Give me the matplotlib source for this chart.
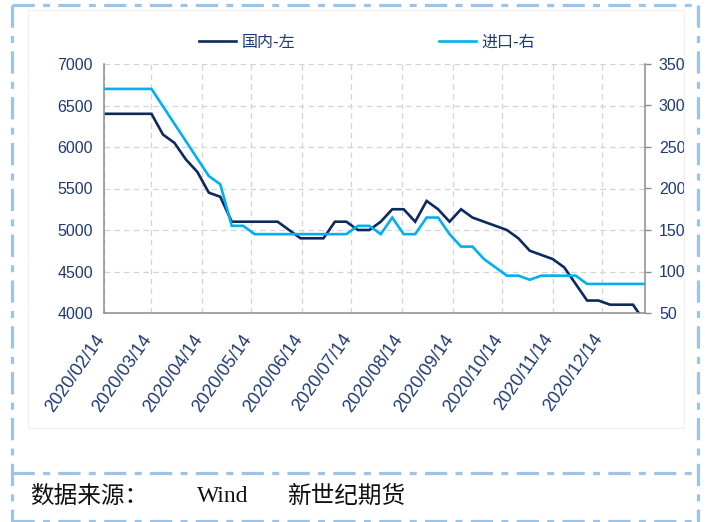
import datetime as dt
import matplotlib
matplotlib.use("Agg")
import matplotlib.pyplot as plt
import matplotlib.dates as mdates
from matplotlib.lines import Line2D
from matplotlib import font_manager
import matplotlib.transforms as mtransforms

# ---- data: weekly prices ----
start = dt.date(2020, 2, 15)
domestic = [6400, 6400, 6400, 6400, 6400, 6150, 6050, 5850, 5700, 5450,
            5400, 5100, 5100, 5100, 5100, 5100, 5000, 4900, 4900, 4900,
            5100, 5100, 5000, 5000, 5100, 5250, 5250, 5100, 5350, 5250,
            5100, 5250, 5150, 5100, 5050, 5000, 4900, 4750, 4700, 4650,
            4550, 4350, 4150, 4150, 4100, 4100, 4100, 3900]
imported = [320, 320, 320, 320, 320, 299, 278, 257, 236, 215,
            205, 155, 155, 145, 145, 145, 145, 145, 145, 145,
            145, 145, 155, 155, 145, 165, 145, 145, 165, 165,
            145, 130, 130, 115, 105, 95, 95, 90, 95, 95,
            95, 95, 85, 85, 85, 85, 85, 85]
dates = [start + dt.timedelta(days=7 * i) for i in range(len(domestic))]
tick_dates = [dt.date(2020, m, 14) for m in range(2, 13)]
left_ticks = [4000, 4500, 5000, 5500, 6000, 6500, 7000]
right_ticks = [50, 100, 150, 200, 250, 300, 350]
labels = ["国内-左", "进口-右"]

NAVY = "#0D2A5E"
SKY = "#00B0F0"
TXT = "#1F3A70"
GRID = "#D4D4D4"
SPINE = "#8C8C8C"
FRAME = "#9DC3E6"

CJK = ["Noto Sans CJK SC", "Noto Sans CJK JP", "DejaVu Sans"]


def has_font(name):
    try:
        font_manager.findfont(font_manager.FontProperties(family=name),
                              fallback_to_default=False)
        return True
    except Exception:
        return False


if has_font("Liberation Sans Narrow"):
    NUM_NARROW, NUM_SIZE = "Liberation Sans Narrow", 13.5
else:
    NUM_NARROW, NUM_SIZE = "Liberation Sans", 11.5
NUM = "Liberation Sans" if has_font("Liberation Sans") else "DejaVu Sans"
SERIF = "Liberation Serif" if has_font("Liberation Serif") else "DejaVu Serif"

plt.rcParams["lines.scale_dashes"] = False

W, H = 709, 522
fig = plt.figure(figsize=(W / 100, H / 100), dpi=100)
fig.patch.set_facecolor("white")


def fx(px):
    return px / W


def fy(py):
    return 1 - py / H


# faint chart-area outline
fig.add_artist(plt.Rectangle((fx(28), fy(428)), fx(684 - 28), (428 - 10) / H,
                             transform=fig.transFigure, fill=False,
                             edgecolor="#EFEFEF", linewidth=0.8))

ax = fig.add_axes([fx(104), fy(313), fx(645 - 104), (313 - 64) / H])
ax2 = ax.twinx()

x = mdates.date2num(dates)
l1, = ax.plot(x, domestic, color=NAVY, linewidth=1.9, solid_joinstyle="miter")
l2, = ax2.plot(x, imported, color=SKY, linewidth=1.9, solid_joinstyle="miter")

ax.set_xlim(mdates.date2num(dt.date(2020, 2, 14)),
            mdates.date2num(dt.datetime(2021, 1, 9, 8)))
ax.set_ylim(4000, 7000)
ax2.set_ylim(50, 350)
ax.set_yticks(left_ticks)
ax2.set_yticks(right_ticks)
ax.set_xticks(mdates.date2num(tick_dates))
ax.set_xticklabels([d.strftime("%Y/%m/%d") for d in tick_dates])

ax.grid(True, color=GRID, linestyle=(0, (4, 3)), linewidth=0.9)
ax.set_axisbelow(True)

for a in (ax, ax2):
    a.spines["top"].set_visible(False)
    for s in ("left", "right", "bottom"):
        a.spines[s].set_color(SPINE)
        a.spines[s].set_linewidth(1.1)
ax.spines["right"].set_visible(False)
ax2.spines["left"].set_visible(False)
ax2.spines["bottom"].set_visible(False)

ax.tick_params(axis="y", length=0, pad=8, labelsize=NUM_SIZE, labelcolor=TXT)
ax2.tick_params(axis="y", length=4, width=1, color=SPINE, direction="out",
                pad=6, labelsize=NUM_SIZE, labelcolor=TXT)
ax.tick_params(axis="x", length=0, pad=13, labelsize=13, labelcolor=TXT)

for t in ax.get_yticklabels() + ax2.get_yticklabels():
    t.set_fontfamily(NUM_NARROW)
shift = mtransforms.ScaledTranslation(4 / 100, 0, fig.dpi_scale_trans)
for t in ax.get_xticklabels():
    t.set_fontfamily(NUM)
    t.set_rotation(55)
    t.set_ha("right")
    t.set_va("top")
    t.set_transform(t.get_transform() + shift)

leg = fig.legend([l1, l2], labels, loc="center", ncol=2,
                 bbox_to_anchor=(fx(367), fy(42)), frameon=False,
                 handlelength=2.3, handletextpad=0.35, columnspacing=9.0,
                 prop={"family": CJK, "size": 11.5})
for t in leg.get_texts():
    t.set_color(TXT)

# dash-dot frame with footer separator
dash = (0, (16, 6, 5, 6))
frame_kw = dict(transform=fig.transFigure, color=FRAME, linewidth=2.3,
                linestyle=dash, solid_capstyle="butt", dash_capstyle="butt")
for xs, ys in [((12, 698), (5, 5)), ((12, 698), (473, 473)),
               ((12, 698), (520.5, 520.5)), ((11.5, 11.5), (5, 522)),
               ((698, 698), (5, 522))]:
    fig.add_artist(Line2D([fx(v) for v in xs], [fy(v) for v in ys], **frame_kw))

fig.text(fx(30), fy(496), "数据来源：", fontsize=17, family=CJK,
         color="#111111", va="center", ha="left")
fig.text(fx(197), fy(496), "Wind", fontsize=17, family=SERIF,
         color="#111111", va="center", ha="left")
fig.text(fx(287), fy(496), "新世纪期货", fontsize=17, family=CJK,
         color="#111111", va="center", ha="left")

fig.savefig("out.png", dpi=100, facecolor="white")
